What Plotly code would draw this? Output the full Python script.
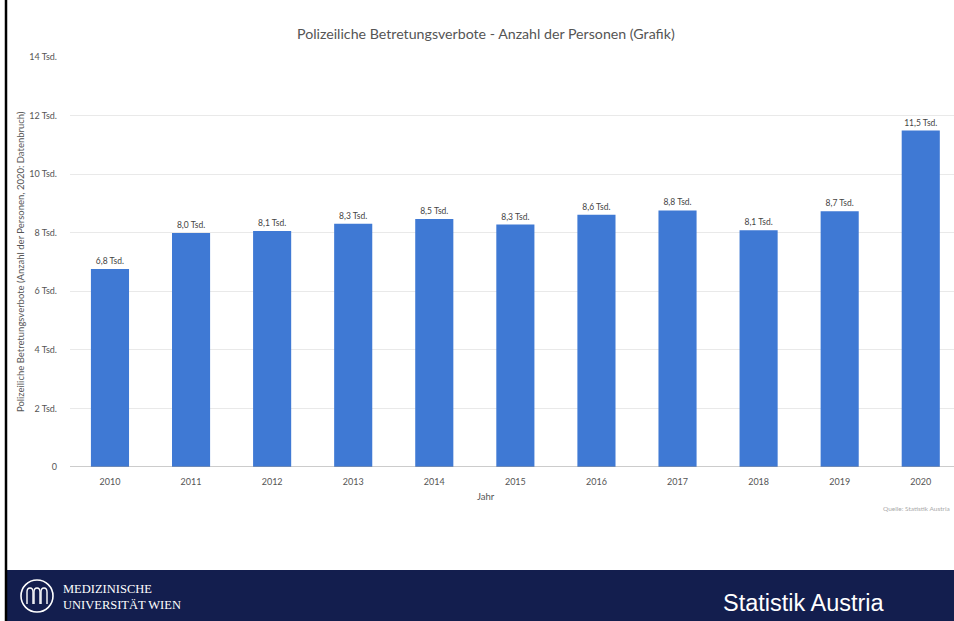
import plotly.graph_objects as go

W, H = 954, 621

years = ["2010", "2011", "2012", "2013", "2014", "2015", "2016", "2017", "2018", "2019", "2020"]
persons_tsd = [6.76, 7.99, 8.06, 8.31, 8.47, 8.28, 8.61, 8.76, 8.08, 8.73, 11.49]
y_ticks = [0, 2, 4, 6, 8, 10, 12, 14]
y_ticklabels = ["0"] + [f"{v} Tsd." for v in y_ticks[1:]]

labels = [f"{v:.1f}".replace(".", ",") + " Tsd." for v in persons_tsd]

def px(x):
    return x / W

def py(y):
    return 1 - y / H

FONT = "Lato"
fig = go.Figure()
fig.add_trace(go.Bar(
    x=list(range(len(years))), y=persons_tsd,
    marker=dict(color="#3f79d4", line=dict(width=0)),
    text=labels, textposition="outside",
    textfont=dict(size=8.5, color="#444444", family=FONT),
    cliponaxis=False, width=0.47,
))

fig.update_layout(
    width=W, height=H,
    margin=dict(l=0, r=0, t=0, b=0, pad=0, autoexpand=False),
    paper_bgcolor="white", plot_bgcolor="white",
    showlegend=False,
    font=dict(family=FONT, color="#555555"),
    xaxis=dict(domain=[px(70), 1], range=[-0.493, 10.41], automargin=False,
               tickvals=list(range(len(years))), ticktext=years,
               tickfont=dict(size=9, color="#555555"), showgrid=False,
               showline=False, zeroline=False, ticks="", ticklabelstandoff=8,
               fixedrange=True),
    yaxis=dict(domain=[py(467), py(57)], range=[0, 14], automargin=False,
               tickvals=y_ticks, ticktext=y_ticklabels,
               tickfont=dict(size=9, color="#555555"),
               gridcolor="#e9e9e9", gridwidth=1, zeroline=False,
               showline=False, ticks="", ticklabelstandoff=12),
    bargap=0.53,
)

# zero baseline
fig.add_shape(type="line", xref="paper", yref="y", x0=px(70), x1=1, y0=0, y1=0,
              line=dict(color="#999999", width=1.2))

# chart title
fig.add_annotation(text="Polizeiliche Betretungsverbote - Anzahl der Personen (Grafik)",
                   xref="paper", yref="paper", x=px(486), y=py(33), yanchor="middle",
                   showarrow=False, font=dict(size=14.2, color="#555555", family=FONT))
# y axis title
fig.add_annotation(text="Polizeiliche Betretungsverbote (Anzahl der Personen, 2020: Datenbruch)",
                   xref="paper", yref="paper", x=px(20), y=py(262), showarrow=False,
                   xanchor="center", yanchor="middle",
                   textangle=-90, font=dict(size=9.5, color="#555555", family=FONT))
# x axis title
fig.add_annotation(text="Jahr", xref="paper", yref="paper", x=px(486), y=py(496),
                   yanchor="middle",
                   showarrow=False, font=dict(size=9.5, color="#555555", family=FONT))
# source
fig.add_annotation(text="Quelle: Statistik Austria", xref="paper", yref="paper",
                   x=px(952), y=py(508), xanchor="right", yanchor="middle", showarrow=False,
                   font=dict(size=6.5, color="#aaaaaa", family=FONT))

# navy footer
fig.add_shape(type="rect", xref="paper", yref="paper", x0=px(7), x1=1, y0=0, y1=py(570),
              line=dict(width=0), fillcolor="#131e4e", layer="above")
# left black line
fig.add_shape(type="line", xref="paper", yref="paper", x0=px(6), x1=px(6), y0=0, y1=1,
              line=dict(color="black", width=2.5), layer="above")

# logo circle
fig.add_shape(type="circle", xref="paper", yref="paper", x0=px(21), x1=px(53),
              y0=py(612), y1=py(580), line=dict(color="white", width=1.6), layer="above")
# stylized loops inside logo
for cx in (30, 37, 44):
    fig.add_shape(type="path", xref="paper", yref="paper", layer="above",
                  path=f"M {px(cx-3)} {py(604)} L {px(cx-3)} {py(592)} "
                       f"Q {px(cx-3)} {py(588)} {px(cx)} {py(588)} "
                       f"Q {px(cx+3)} {py(588)} {px(cx+3)} {py(592)} L {px(cx+3)} {py(604)}",
                  line=dict(color="white", width=1.4))
fig.add_annotation(text="MEDIZINISCHE<br>UNIVERSITÄT WIEN", xref="paper", yref="paper",
                   x=px(61), y=py(597), xanchor="left", yanchor="middle", align="left",
                   showarrow=False,
                   font=dict(size=12.5, color="white", family="Liberation Serif"))
fig.add_annotation(text="Statistik Austria", xref="paper", yref="paper",
                   x=px(721), y=py(603), xanchor="left", yanchor="middle", showarrow=False,
                   font=dict(size=23.5, color="white", family="Liberation Sans"))

fig.write_html("out.html")
